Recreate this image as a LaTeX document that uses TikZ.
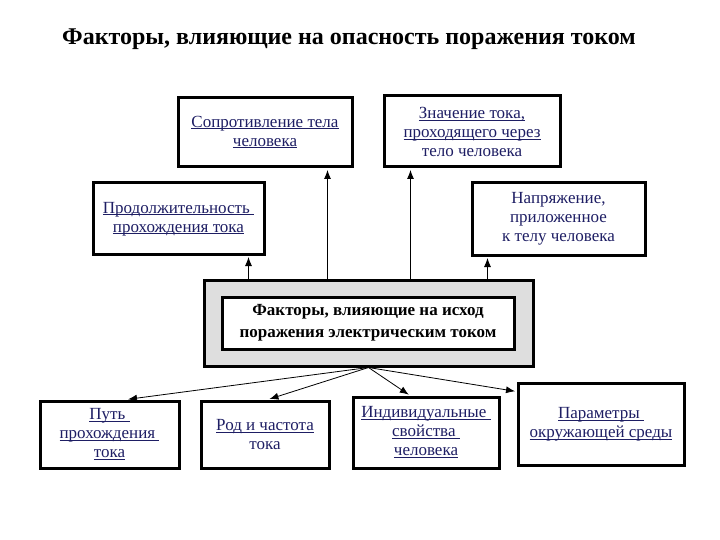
\documentclass[tikz,border=0pt]{standalone}
\usepackage{fontspec}
\setmainfont{Liberation Serif}
\usetikzlibrary{arrows.meta,positioning}
\definecolor{InkNavy}{RGB}{30,30,100}
\definecolor{HubGray}{RGB}{222,222,222}
\newcommand{\linkline}[1]{\underline{\smash{#1}}\vphantom{(}}
\tikzset{
  factor/.style={draw=black,fill=white,line width=3pt,inner sep=2pt,
    align=center,text=InkNavy,font=\fontsize{17}{19}\selectfont},
  hubframe/.style={draw=black,fill=HubGray,line width=3pt},
  hubtext/.style={draw=black,fill=white,line width=3pt,align=center,
    font=\fontsize{17}{22}\selectfont\bfseries},
  heading/.style={font=\fontsize{24}{28}\selectfont\bfseries},
  arrow/.style={-{Latex[length=9pt,width=7pt]},line width=0.8pt,shorten >=1.5pt}
}

\begin{document}
\begin{tikzpicture}[x=1pt,y=-1pt]
      \useasboundingbox (0,0) rectangle (720,540);
      \node[heading] (title) at (349,39) {Факторы, влияющие на опасность поражения током};
      % upper row
      \node[factor,minimum width=174pt,minimum height=69pt] (resist) at (265,132.5) {\linkline{Сопротивление тела}\\\linkline{человека}};
      \node[factor,minimum width=176pt,minimum height=71pt] (current) at (472,131.5) {\linkline{Значение тока,}\\\linkline{проходящего через}\\тело человека};
      \node[factor,minimum width=171pt,minimum height=71pt] (duration) at (178.5,218.5) {\linkline{Продолжительность }\\\linkline{прохождения тока}};
      \node[factor,minimum width=173pt,minimum height=72pt] (voltage) at (558.5,219) {Напряжение,\\приложенное\\к телу человека};
      % central block
      \node[hubframe,minimum width=329pt,minimum height=86pt] (hub) at (368.5,323) {};
      \node[hubtext,minimum width=292pt,minimum height=52pt] (hubinner) at (368,323) {Факторы, влияющие на исход\\поражения электрическим током};
      % lower row
      \node[factor,minimum width=139pt,minimum height=67pt] (path) at (109.5,434.5) {\linkline{Путь }\\\linkline{прохождения }\\\linkline{тока}};
      \node[factor,minimum width=128pt,minimum height=67pt] (kind) at (265,434.5) {\linkline{Род и частота}\\тока};
      \node[factor,minimum width=146pt,minimum height=71pt] (person) at (426,432.5) {\linkline{Индивидуальные }\\\linkline{свойства }\\\linkline{человека}};
      \node[factor,minimum width=166pt,minimum height=82pt] (ambient) at (601,424) {\linkline{Параметры }\\\linkline{окружающей среды}};
      % connectors
      \draw[arrow] ([xshift=-17pt]duration.south east |- hub.north) -- ([xshift=-17pt]duration.south east);
      \draw[arrow] ([xshift=-26pt]resist.south east |- hub.north) -- ([xshift=-26pt]resist.south east);
      \draw[arrow] ([xshift=28pt]current.south west |- hub.north) -- ([xshift=28pt]current.south west);
      \draw[arrow] ([xshift=17pt]voltage.south west |- hub.north) -- ([xshift=17pt]voltage.south west);
      \draw[arrow] (hub.south) -- ([xshift=17pt]path.north);
      \draw[arrow] (hub.south) -- ([xshift=3pt]kind.north);
      \draw[arrow] (hub.south) -- ([xshift=-16pt]person.north);
      \draw[arrow] (hub.south) -- ([yshift=-10pt]ambient.north west);
    \end{tikzpicture}
\end{document}
